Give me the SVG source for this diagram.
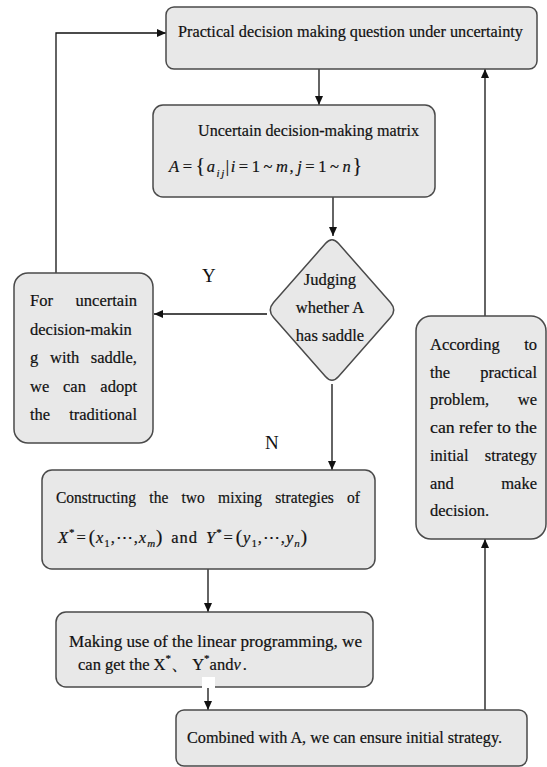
<svg xmlns="http://www.w3.org/2000/svg" width="547" height="767" viewBox="0 0 547 767">
<style>
.box{fill:#e8e8e8;stroke:#4a4a4a;stroke-width:1.5}
.t{font-family:'Liberation Serif','DejaVu Serif','Noto Serif',serif;font-size:16.5px;fill:#111;stroke:#111;stroke-width:0.2}
.i{font-style:italic}
.c{text-anchor:middle}
.e{text-anchor:end}
.sub{font-size:11px}
.lbl{font-family:'Liberation Serif','DejaVu Serif',serif;font-size:19px;fill:#111}
.ln{fill:none;stroke:#111;stroke-width:1.3}
</style>
<defs>
<marker id="ah" markerUnits="userSpaceOnUse" markerWidth="9" markerHeight="8" refX="9" refY="4" orient="auto">
<path d="M0,0 L9,4 L0,8 z" fill="#111"/>
</marker>
</defs>
<rect x="0" y="0" width="547" height="767" fill="#ffffff"/>

<g id="connectors">
<line class="ln" x1="319" y1="69" x2="319" y2="105" marker-end="url(#ah)"/>
<line class="ln" x1="333" y1="197" x2="333" y2="236" marker-end="url(#ah)"/>
<line class="ln" x1="267" y1="314" x2="154" y2="314" marker-end="url(#ah)"/>
<polyline class="ln" points="56,273 56,33 166,33" marker-end="url(#ah)"/>
<line class="ln" x1="332" y1="384" x2="332" y2="470" marker-end="url(#ah)"/>
<line class="ln" x1="208" y1="569" x2="208" y2="612" marker-end="url(#ah)"/>
<line class="ln" x1="208" y1="687" x2="208" y2="710" marker-end="url(#ah)"/>
<line class="ln" x1="485" y1="710" x2="485" y2="539" marker-end="url(#ah)"/>
<line class="ln" x1="485" y1="316" x2="485" y2="69" marker-end="url(#ah)"/>
<text class="lbl" x="202" y="282">Y</text>
<text class="lbl" x="265" y="449">N</text>
</g>

<g id="n-question">
<rect class="box" x="166" y="7" width="371" height="62" rx="8"/>
<text class="t" x="178" y="37" textLength="345" lengthAdjust="spacingAndGlyphs">Practical decision making question under uncertainty</text>
</g>

<g id="n-matrix">
<rect class="box" x="153" y="105" width="282" height="92" rx="10"/>
<text class="t" x="198" y="136" textLength="221" lengthAdjust="spacingAndGlyphs">Uncertain decision-making matrix</text>
<text class="t" x="169" y="172" textLength="193" lengthAdjust="spacing"><tspan class="i">A</tspan><tspan dx="2">=</tspan><tspan dx="2" font-size="20">{</tspan><tspan class="i">a</tspan><tspan class="i sub" dy="5">ij</tspan><tspan dy="-5">|</tspan><tspan class="i">i</tspan><tspan dx="2">=</tspan><tspan dx="2">1</tspan><tspan dx="2">~</tspan><tspan class="i" dx="2">m</tspan><tspan>,</tspan><tspan class="i" dx="2">j</tspan><tspan dx="2">=</tspan><tspan dx="2">1</tspan><tspan dx="2">~</tspan><tspan class="i" dx="2">n</tspan><tspan font-size="20">}</tspan></text>
</g>

<g id="n-judge">
<path class="box" d="M338.55,243.56 L390.45,302.44 Q397,310 390.45,317.56 L338.55,376.44 Q332,384 325.45,376.44 L273.55,317.56 Q267,310 273.55,302.44 L325.45,243.56 Q332,236 338.55,243.56 Z"/>
<text class="t c" x="330" y="285">Judging</text>
<text class="t c" x="330" y="313">whether A</text>
<text class="t c" x="330" y="341">has saddle</text>
</g>

<g id="n-saddle">
<rect class="box" x="14" y="273" width="139" height="170" rx="14"/>
<text class="t" x="30" y="306">For</text><text class="t e" x="137" y="306">uncertain</text>
<text class="t" x="30" y="335">decision-makin</text>
<text class="t" x="30" y="363">g</text><text class="t" x="50" y="363">with</text><text class="t e" x="137" y="363">saddle,</text>
<text class="t" x="30" y="392">we</text><text class="t" x="63" y="392">can</text><text class="t e" x="137" y="392">adopt</text>
<text class="t" x="30" y="420">the</text><text class="t e" x="137" y="420">traditional</text>
</g>

<g id="n-construct">
<rect class="box" x="42" y="470" width="333" height="99" rx="10"/>
<text class="t" x="56" y="503" textLength="304" lengthAdjust="spacingAndGlyphs" word-spacing="10">Constructing the two mixing strategies of</text>
<text class="t" x="58" y="543" textLength="249" lengthAdjust="spacing"><tspan class="i">X</tspan><tspan class="sub" dy="-7">*</tspan><tspan dy="7" dx="1">=</tspan><tspan dx="2" font-size="19">(</tspan><tspan class="i">x</tspan><tspan class="sub" dy="4">1</tspan><tspan dy="-4">,⋯,</tspan><tspan class="i">x</tspan><tspan class="i sub" dy="4">m</tspan><tspan dy="-4" font-size="19">)</tspan><tspan dx="8">and</tspan><tspan class="i" dx="8">Y</tspan><tspan class="sub" dy="-7">*</tspan><tspan dy="7" dx="1">=</tspan><tspan dx="2" font-size="19">(</tspan><tspan class="i">y</tspan><tspan class="sub" dy="4">1</tspan><tspan dy="-4">,⋯,</tspan><tspan class="i">y</tspan><tspan class="i sub" dy="4">n</tspan><tspan dy="-4" font-size="19">)</tspan></text>
</g>

<g id="n-linear">
<rect class="box" x="56" y="612" width="317" height="75" rx="10"/>
<text class="t" x="69" y="647" textLength="293" lengthAdjust="spacingAndGlyphs">Making use of the linear programming, we</text>
<text class="t" x="78" y="670">can get the X<tspan class="sub" dy="-8">*</tspan><tspan dy="8">、 Y</tspan><tspan class="sub" dy="-8">*</tspan><tspan dy="8">and</tspan><tspan class="i">ν</tspan><tspan dx="2">.</tspan></text>
<rect x="202" y="677" width="13" height="11" fill="#ffffff"/>
</g>

<g id="n-combine">
<rect class="box" x="176" y="710" width="351" height="56" rx="8"/>
<text class="t" x="187" y="743" textLength="315" lengthAdjust="spacingAndGlyphs">Combined with A, we can ensure initial strategy.</text>
</g>

<g id="n-decide">
<rect class="box" x="416" y="316" width="130" height="223" rx="15"/>
<text class="t" x="430" y="350">According</text><text class="t e" x="537" y="350">to</text>
<text class="t" x="430" y="378">the</text><text class="t e" x="537" y="378">practical</text>
<text class="t" x="430" y="405">problem,</text><text class="t e" x="537" y="405">we</text>
<text class="t" x="430" y="433" textLength="107" lengthAdjust="spacingAndGlyphs">can refer to the</text>
<text class="t" x="430" y="461">initial</text><text class="t e" x="537" y="461">strategy</text>
<text class="t" x="430" y="489">and</text><text class="t e" x="537" y="489">make</text>
<text class="t" x="430" y="516">decision.</text>
</g>
</svg>
